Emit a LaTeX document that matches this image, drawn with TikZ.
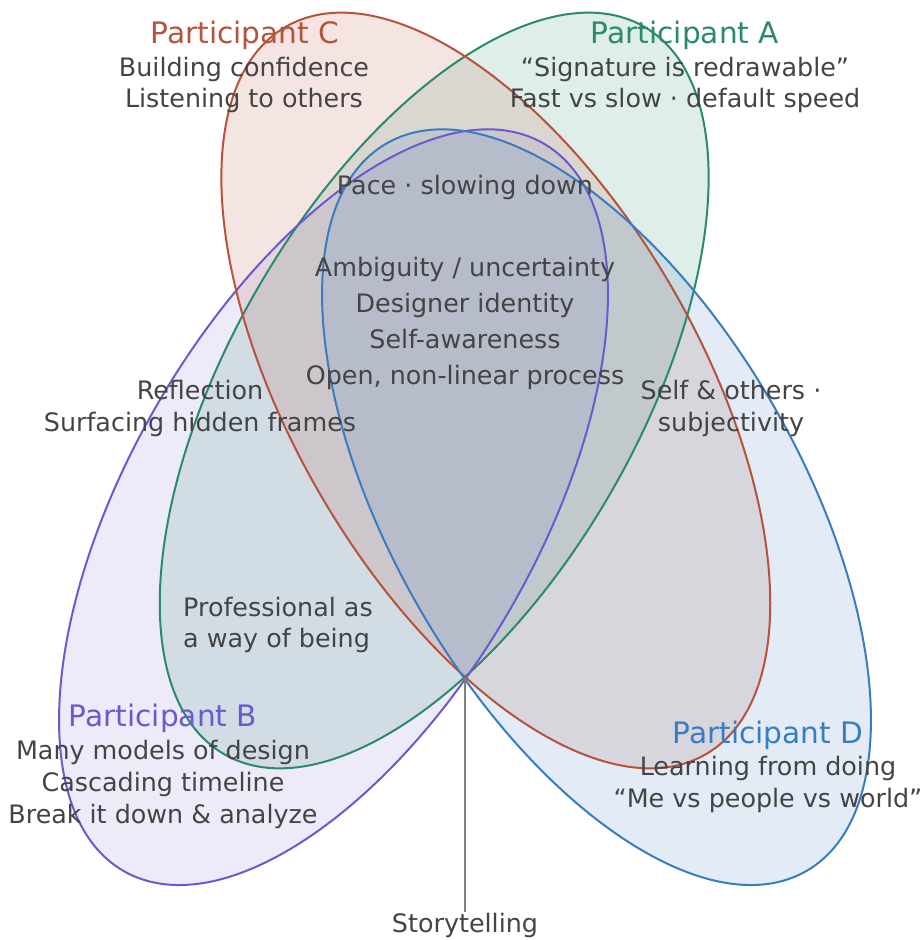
\documentclass[tikz,border=0pt]{standalone}
\usepackage{fontspec}
\setmainfont{DejaVu Sans}
\usetikzlibrary{positioning}
\definecolor{colA}{HTML}{2A8A6A}
\definecolor{colB}{HTML}{6A5ACD}
\definecolor{colC}{HTML}{B5533C}
\definecolor{colD}{HTML}{3A7CC0}
\definecolor{txtgray}{HTML}{444444}
\tikzset{
  setfill/.style={fill=#1, fill opacity=0.15},
  setline/.style={draw=#1, line width=1pt},
  ttl/.style={font=\fontsize{14.8}{17}\selectfont, text=#1, inner sep=0pt},
  body/.style={font=\fontsize{12.7}{15.5}\selectfont, text=txtgray, align=center, inner sep=0pt},
}

\begin{document}
\begin{tikzpicture}[x=0.5pt, y=0.5pt]
\useasboundingbox (0,0) rectangle (922,940);
\coordinate (P) at (465,262);
% the four sets: centre / angle / colour / fill strength
\foreach \cx/\cy/\ang/\col/\op in {434.2/549.5/60/colA/0.15, 333.5/432.8/60/colB/0.12,
                                   495.8/549.5/-60/colC/0.15, 596.5/432.8/-60/colD/0.15} {
  \fill[setfill=\col, fill opacity=\op, rotate around={\ang:(\cx,\cy)}] (\cx,\cy) ellipse (420 and 204);
}
\foreach \cx/\cy/\ang/\col in {434.2/549.5/60/colA, 333.5/432.8/60/colB,
                                495.8/549.5/-60/colC, 596.5/432.8/-60/colD} {
  \draw[setline=\col, rotate around={\ang:(\cx,\cy)}] (\cx,\cy) ellipse (420 and 204);
}

% participants
\node[ttl=colC] (titleC) at (245,905) {Participant C};
\node[body] (bodyC) at (244,855) {Building confidence\\Listening to others};
\node[ttl=colA] (titleA) at (685,905) {Participant A};
\node[body] (bodyA) at (685,855) {“Signature is redrawable”\\Fast vs slow · default speed};
\node[ttl=colB] (titleB) at (163,222) {Participant B};
\node[body, font=\fontsize{12.7}{16}\selectfont] (bodyB) at (163,156)
  {Many models of design\\Cascading timeline\\Break it down \& analyze};
\node[ttl=colD] (titleD) at (768,205) {Participant D};
\node[body, font=\fontsize{12.7}{16}\selectfont] (bodyD) at (768,156)
  {Learning from doing\\“Me vs people vs world”};

% shared themes
\node[body] (pace) at (465,752) {Pace · slowing down};
\node[body, font=\fontsize{12.7}{18}\selectfont] (core) at (465,616)
  {Ambiguity / uncertainty\\Designer identity\\Self-awareness\\Open, non-linear process};
\node[body, font=\fontsize{12.7}{16}\selectfont] (refl) at (200,531) {Reflection\\Surfacing hidden frames};
\node[body, font=\fontsize{12.7}{16}\selectfont] (selfo) at (731,531) {Self \& others ·\\subjectivity};
\node[body, font=\fontsize{12.7}{15.5}\selectfont, align=left] (prof) at (278,315) {Professional as\\a way of being};
\node[body] (story) at (465,15) {Storytelling};
\draw[gray, line width=0.7pt] (P) -- (story.north);
\end{tikzpicture}
\end{document}
